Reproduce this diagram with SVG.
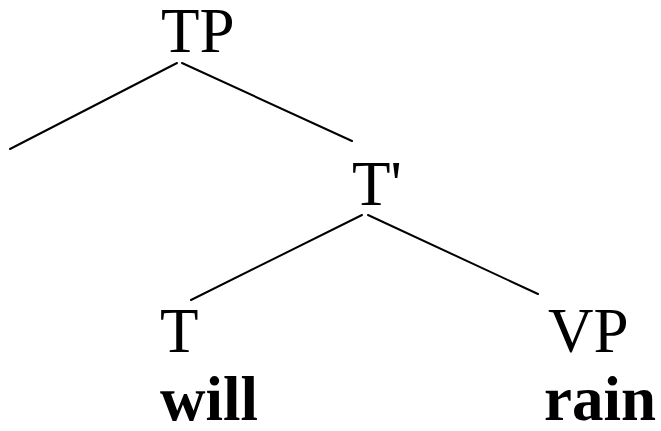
<svg xmlns="http://www.w3.org/2000/svg" width="661" height="431" viewBox="0 0 661 431">
  <style>
    .lbl { font-family: "Liberation Serif", "Times New Roman", serif; font-size: 63px; fill: #000; }
    .word { font-weight: bold; }
    .edge { stroke: #000; stroke-width: 2; fill: none; stroke-linecap: round; }
  </style>
  <rect width="661" height="431" fill="#fff"/>
  <g id="connectors">
    <line class="edge" x1="177" y1="63" x2="10" y2="149"/>
    <line class="edge" x1="182" y1="63" x2="352" y2="141"/>
    <line class="edge" x1="362" y1="215" x2="191" y2="300"/>
    <line class="edge" x1="368" y1="215" x2="538" y2="294"/>
  </g>
  <g id="node-TP"><text class="lbl" x="161" y="52">TP</text></g>
  <g id="node-Tbar"><text class="lbl" x="352" y="205">T'</text></g>
  <g id="node-T"><text class="lbl" x="160" y="352">T</text></g>
  <g id="node-VP"><text class="lbl" x="548" y="352">VP</text></g>
  <g id="word-will"><text class="lbl word" x="160" y="420">will</text></g>
  <g id="word-rain"><text class="lbl word" x="544" y="420">rain</text></g>
</svg>
